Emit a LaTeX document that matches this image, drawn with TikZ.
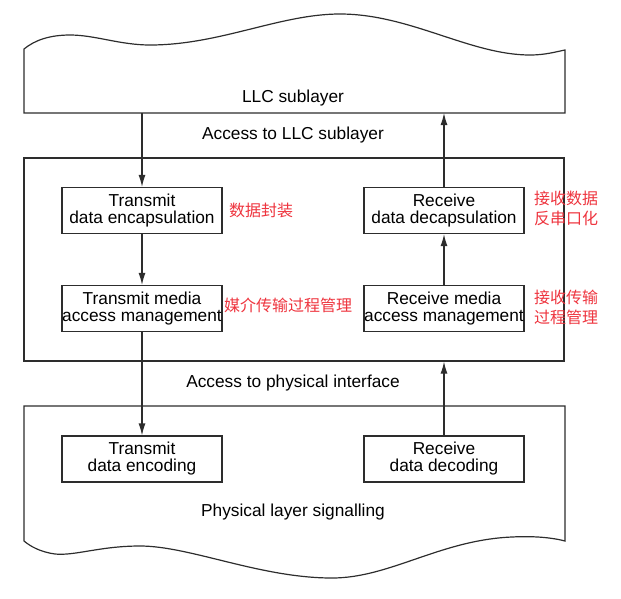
\documentclass[tikz,border=0pt]{standalone}
\usepackage{fontspec}
\setmainfont{Liberation Sans}
\newfontfamily\cjk{Noto Sans CJK SC}
\usetikzlibrary{arrows.meta}
\definecolor{notered}{RGB}{238,52,62}
\definecolor{linegray}{RGB}{45,45,45}
\begin{document}
\begin{tikzpicture}[
  x=1pt, y=-1pt,
  every node/.style={font=\fontsize{17.3}{17}\selectfont},
  func/.style={draw=linegray, line width=1.2pt, align=center, inner sep=0pt,
    minimum width=160pt, minimum height=46pt},
  note/.style={anchor=west, text=notered, align=left, inner sep=0pt,
    font=\cjk\fontsize{16}{20}\selectfont},
  flow/.style={draw=linegray, line width=1.2pt, -{Latex[length=12pt,width=7pt]}},
  layer/.style={draw=linegray, line width=1.2pt},
]
\useasboundingbox (0,0) rectangle (621,598);

\draw[layer] (565,113) -- (24,113) -- (24,49)
  .. controls (35,40) and (50,35) .. (70,35)
  .. controls (95,35) and (120,45) .. (150,45)
  .. controls (220,45) and (280,14) .. (340,14)
  .. controls (410,14) and (470,55) .. (530,55)
  .. controls (545,55) and (555,52) .. (565,50) -- cycle;
\coordinate (llc) at (293,113);
\node (llclabel) at (293,98) {LLC sublayer};

\node (llcaccess) at (293,135) {Access to LLC sublayer};

\node[layer, minimum width=540pt, minimum height=203pt, inner sep=0pt]
  (mac) at (294,259.5) {};

\node[func] (encap) at (142,210.5) {Transmit\\data encapsulation};
\node[func] (decap) at (444,210.5) {Receive\\data decapsulation};
\node[func] (tmedia) at (142,308.5) {Transmit media\\access management};
\node[func] (rmedia) at (444,308.5) {Receive media\\access management};

\node[note] (encapnote) at (229,210) {数据封装};
\node[note] (decapnote) at (534,208) {接收数据\\反串口化};
\node[note] (tmedianote) at (224,305) {媒介传输过程管理};
\node[note] (rmedianote) at (534,307) {接收传输\\过程管理};

\node (phyaccess) at (293,383) {Access to physical interface};

\draw[layer] (24,541) -- (24,406) -- (565,406) -- (565,541)
  .. controls (550,537) and (530,536) .. (512,537)
  .. controls (440,540) and (390,578) .. (332,578)
  .. controls (260,578) and (190,546) .. (140,546)
  .. controls (100,546) and (75,556) .. (55,554)
  .. controls (40,552) and (30,546) .. (24,541);

\node[func] (encode) at (142,459) {Transmit\\data encoding};
\node[func] (decode) at (444,459) {Receive\\data decoding};
\node (phylabel) at (293,512) {Physical layer signalling};

\draw[flow] (encap.north |- llc) -- (encap.north);
\draw[flow] (encap) -- (tmedia);
\draw[flow] (tmedia) -- (encode);
\draw[flow] (decode.north) -- (decode.north |- mac.south);
\draw[flow] (rmedia) -- (decap);
\draw[flow] (decap.north) -- (decap.north |- llc);
\end{tikzpicture}
\end{document}
